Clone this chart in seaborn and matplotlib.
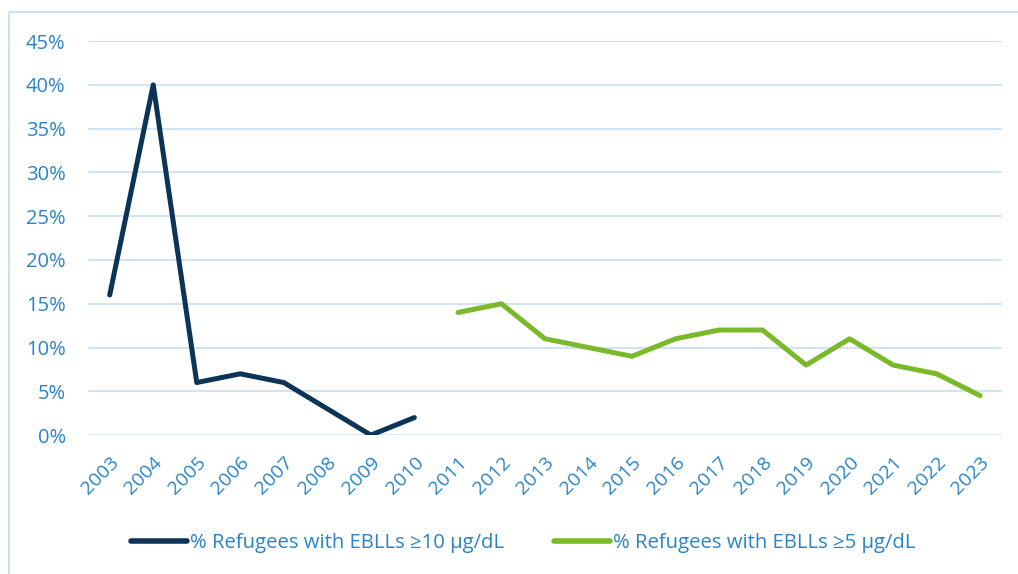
import matplotlib
matplotlib.use("Agg")
import matplotlib.pyplot as plt
import matplotlib.lines as mlines
import seaborn as sns
import pandas as pd
import numpy as np

years_10 = ["2003", "2004", "2005", "2006", "2007", "2008", "2009", "2010"]
vals_10 = [0.16, 0.40, 0.06, 0.07, 0.06, 0.03, 0.00, 0.02]
years_5 = ["2011", "2012", "2013", "2014", "2015", "2016", "2017", "2018",
           "2019", "2020", "2021", "2022", "2023"]
vals_5 = [0.14, 0.15, 0.11, 0.10, 0.09, 0.11, 0.12, 0.12, 0.08, 0.11, 0.08, 0.07, 0.045]
label_10 = "% Refugees with EBLLs ≥10 µg/dL"
label_5 = "% Refugees with EBLLs ≥5 µg/dL"
yticks = [0, 0.05, 0.10, 0.15, 0.20, 0.25, 0.30, 0.35, 0.40, 0.45]

c_navy = "#0b3457"
c_green = "#7ab929"
c_text = "#2a84c6"
c_grid = "#cce2f3"

df = pd.DataFrame({
    "year": years_10 + years_5,
    "value": vals_10 + vals_5,
    "series": [label_10] * len(years_10) + [label_5] * len(years_5),
})

sns.set_theme(style="white")
plt.rcParams["font.family"] = ["Open Sans", "DejaVu Sans"]

fig = plt.figure(figsize=(10.18, 5.74), dpi=100)
ax = fig.add_axes([0.0864, 0.242, 0.8978, 0.6864])

sns.lineplot(data=df, x="year", y="value", hue="series",
             palette={label_10: c_navy, label_5: c_green},
             linewidth=3.6, ax=ax, legend=False, sort=False)

ax.set_xlim(-0.5, len(years_10) + len(years_5) - 0.5)
ax.set_ylim(0, 0.45)
ax.set_yticks(yticks)
ax.set_yticklabels([f"{int(round(t*100))}%" for t in yticks])
ax.yaxis.grid(True, color=c_grid, linewidth=1.3)
ax.set_axisbelow(True)
for s in ax.spines.values():
    s.set_visible(False)
ax.set_xlabel("")
ax.set_ylabel("")
ax.tick_params(axis="y", colors=c_text, labelsize=14.5, length=0, pad=16)
ax.tick_params(axis="x", colors=c_text, labelsize=14, length=0, pad=13)
for lbl in ax.get_xticklabels():
    lbl.set_rotation(45)
    lbl.set_ha("right")
    lbl.set_va("top")
    lbl.set_rotation_mode("anchor")

handles = [mlines.Line2D([], [], color=c_navy, linewidth=4, solid_capstyle="round"),
           mlines.Line2D([], [], color=c_green, linewidth=4, solid_capstyle="round")]
fig.legend(handles, [label_10, label_5], loc="center", bbox_to_anchor=(0.514, 0.054),
           ncol=2, frameon=False, fontsize=14.6, labelcolor=c_text,
           handlelength=2.75, handletextpad=0.12, columnspacing=2.5)

# chart frame (top and left edges visible)
fig.add_artist(mlines.Line2D([9/1018, 1.0], [1 - 12/574, 1 - 12/574],
                             transform=fig.transFigure, color=c_grid, linewidth=1.5))
fig.add_artist(mlines.Line2D([9/1018, 9/1018], [0.0, 1 - 12/574],
                             transform=fig.transFigure, color=c_grid, linewidth=1.5))

fig.savefig("out.png", dpi=100, facecolor="white")
